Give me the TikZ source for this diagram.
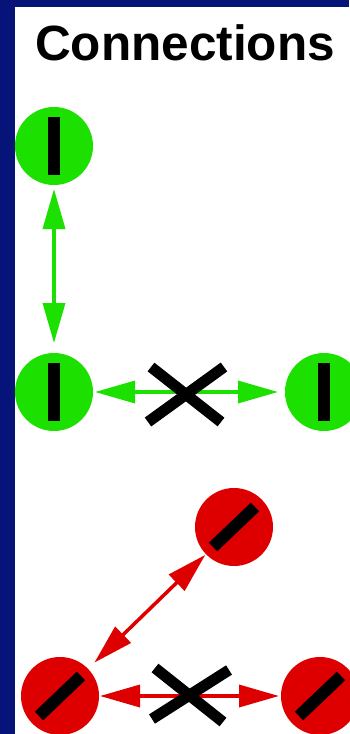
\documentclass[tikz,border=0pt]{standalone}
\usepackage{fontspec}
\setmainfont{Liberation Sans}
\usetikzlibrary{arrows.meta}
\definecolor{navy}{RGB}{6,20,122}
\definecolor{okgreen}{RGB}{28,224,0}
\definecolor{badred}{RGB}{222,0,0}
\tikzset{
  x=1pt, y=-1pt,
  disc/.style={circle, minimum size=78pt, inner sep=0pt, outer sep=0pt},
  gdisc/.style={disc, fill=okgreen},
  rdisc/.style={disc, fill=badred},
  bar/.style={line width=12pt, black, line cap=butt},
  cross/.style={line width=11pt, black, line cap=butt},
  link/.style={line width=3.5pt, {Triangle[length=40pt,width=22pt]}-{Triangle[length=40pt,width=22pt]}},
  glink/.style={link, okgreen},
  rlink/.style={link, badred},
}
\begin{document}
\begin{tikzpicture}
  % page and frame
  \fill[white] (0,0) rectangle (349,734);
  \useasboundingbox (0,0) rectangle (349,734);
  \fill[navy] (0,0) rectangle (349,7);
  \fill[navy] (0,0) rectangle (15,734);

  % title
  \node[anchor=base, inner sep=0pt, font=\fontsize{49.5}{52}\selectfont\bfseries] (title) at (185,60) {Connections};

  % allowed connections (green)
  \node[gdisc] (g1) at (54,146) {};
  \node[gdisc] (g2) at (54,392) {};
  \node[gdisc] (g3) at (324,392) {};
  \foreach \n in {g1,g2,g3}
    \draw[bar] ([yshift=29pt]\n.center) -- ([yshift=-29pt]\n.center);
  \draw[glink, shorten <=4pt, shorten >=10pt] (g1) -- (g2);
  \draw[glink, shorten <=2pt, shorten >=7pt] (g2) -- (g3);
  \coordinate (gx) at (186,394);
  \draw[cross] ([shift={(-38,28)}]gx) -- ([shift={(38,-27)}]gx);
  \draw[cross] ([shift={(-35,-27)}]gx) -- ([shift={(35,28)}]gx);

  % connections with the other orientation (red)
  \node[rdisc] (r1) at (234,527) {};
  \node[rdisc] (r2) at (60,696) {};
  \node[rdisc] (r3) at (320,696) {};
  \foreach \n in {r1,r2,r3}
    \draw[bar] ([shift={(-21,20)}]\n.center) -- ([shift={(21,-20)}]\n.center);
  \draw[rlink, shorten <=9pt, shorten >=1pt] (r2) -- (r1);
  \draw[rlink, shorten <=1pt, shorten >=2pt] (r2) -- (r3);
  \coordinate (rx) at (189,695);
  \draw[cross] ([shift={(-34,-27)}]rx) -- ([shift={(34,27)}]rx);
  \draw[cross] ([shift={(-37,24)}]rx) -- ([shift={(40,-25)}]rx);
\end{tikzpicture}
\end{document}
